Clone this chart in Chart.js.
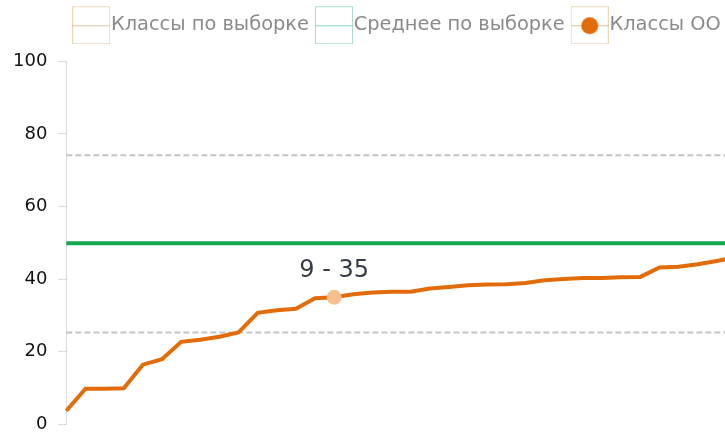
<!DOCTYPE html>
<html>
<head>
<meta charset="utf-8">
<script src="https://cdn.jsdelivr.net/npm/chart.js@4/dist/chart.umd.min.js"></script>
<style>
  html, body { margin: 0; padding: 0; background: #fff; overflow: hidden; }
  #wrap { width: 725px; height: 437px; overflow: hidden; }
</style>
</head>
<body>
<div id="wrap"><canvas id="chart" width="800" height="446"></canvas></div>
<script>
// классы ОО, отсортированные по результату
const classLabels = [
  '1', '2', '3', '4', '5', '6', '7', '8', '9', '10', '11', '12',
  '13', '14', '9', '16', '17', '18', '19', '20', '21', '22', '23', '24',
  '25', '26', '27', '28', '29', '30', '31', '32', '33', '34', '35', '36',
];
const classValues = [
  3.7, 9.8, 9.8, 9.9, 16.4, 17.9, 22.7, 23.3, 24.1, 25.3, 30.7, 31.4,
  31.8, 34.7, 35.0, 35.8, 36.3, 36.5, 36.5, 37.4, 37.8, 38.3, 38.5, 38.6,
  38.9, 39.7, 40.0, 40.3, 40.3, 40.5, 40.6, 43.2, 43.4, 44.1, 45.0, 46.0,
];
const markedIndex = 14;

const sampleMean = 49.9;
const sampleLow = 25.3;
const sampleHigh = 74.1;

const yTicks = [0, 20, 40, 60, 80, 100];

const legendNames = ['Классы по выборке', 'Среднее по выборке', 'Классы ОО'];

// ================================================================
// значки легенды
// ================================================================

function makeIcon(border, line, dot) {
  const c = document.createElement('canvas');
  c.width = 38;
  c.height = 39;
  const g = c.getContext('2d');
  g.strokeStyle = border;
  g.lineWidth = 1;
  g.strokeRect(0.5, 1.5, 37, 37);
  g.strokeStyle = line;
  g.beginPath();
  g.moveTo(0, 20.5);
  g.lineTo(38, 20.5);
  g.stroke();
  if (dot) {
    g.fillStyle = dot;
    g.beginPath();
    g.arc(19, 20.5, 8.5, 0, Math.PI * 2);
    g.fill();
  }
  return c;
}

const icons = [
  makeIcon('#e8d8b8', '#dcc6a0'),
  makeIcon('#a9ddd1', '#8ccfbf'),
  makeIcon('#e8d8b8', '#dcc09a', '#e36c0a'),
];

function flatLine(value) {
  return [
    { x: classLabels[0], y: value },
    { x: classLabels[classLabels.length - 1], y: value },
  ];
}

// ================================================================
// легенда: отступ снизу и сдвиг вправо
// ================================================================

const legendPlace = {
  id: 'legendPlace',
  beforeInit(chart) {
    const fit = chart.legend.fit;
    chart.legend.fit = function () {
      fit.call(this);
      this.height += 17;
    };
  },
  afterLayout(chart) {
    chart.legend.left += 32;
    chart.legend.right += 32;
  },
};

// ================================================================
// подпись выбранного класса
// ================================================================

const markLabel = {
  id: 'markLabel',
  afterDatasetsDraw(chart) {
    const pt = chart.getDatasetMeta(0).data[markedIndex];
    if (!pt) return;
    const { ctx } = chart;
    ctx.save();
    ctx.font = '24px "DejaVu Sans"';
    ctx.fillStyle = '#343b45';
    ctx.textAlign = 'center';
    ctx.textBaseline = 'middle';
    ctx.fillText(`${classLabels[markedIndex]} - ${Math.round(classValues[markedIndex])}`, pt.x, pt.y - 26);
    ctx.restore();
  },
};

const dashed = {
  borderColor: '#c4c4c4',
  borderWidth: 2,
  borderDash: [6, 3],
  pointRadius: 0,
  fill: false,
  order: 2,
};

new Chart(document.getElementById('chart'), {
  type: 'line',
  data: {
    labels: classLabels,
    datasets: [
      {
        label: legendNames[2],
        data: classValues,
        borderColor: '#e36c0a',
        borderWidth: 4,
        tension: 0,
        pointRadius: (c) => (c.dataIndex === markedIndex ? 7.5 : 0),
        pointBackgroundColor: '#f7bf8c',
        pointBorderWidth: 0,
        order: 0,
      },
      {
        label: legendNames[1],
        data: flatLine(sampleMean),
        borderColor: '#13a84f',
        borderWidth: 4,
        pointRadius: 0,
        order: 1,
      },
      { label: legendNames[0], data: flatLine(sampleHigh), ...dashed },
      { label: legendNames[0], data: flatLine(sampleLow), ...dashed },
    ],
  },
  options: {
    responsive: false,
    animation: false,
    events: [],
    layout: { padding: { left: 2, right: 64, top: 0, bottom: 2 } },
    plugins: {
      tooltip: { enabled: false },
      legend: {
        position: 'top',
        labels: {
          usePointStyle: true,
          pointStyleWidth: 20,
          padding: 15,
          color: '#8a8a8a',
          font: { family: 'DejaVu Sans', size: 19.4 },
          generateLabels: () => legendNames.map((name, i) => ({
            text: name,
            pointStyle: icons[i],
            fillStyle: 'transparent',
            strokeStyle: 'transparent',
            lineWidth: 0,
            fontColor: '#8a8a8a',
            hidden: false,
            datasetIndex: i,
          })),
        },
      },
    },
    scales: {
      x: { display: false },
      y: {
        min: 0,
        max: 100,
        afterBuildTicks: (scale) => { scale.ticks = yTicks.map((v) => ({ value: v })); },
        border: { color: '#dadada', width: 1 },
        grid: { drawOnChartArea: false, color: '#dadada', tickLength: 8 },
        ticks: {
          padding: 11,
          color: '#111',
          font: { family: 'DejaVu Sans', size: 18 },
        },
      },
    },
  },
  plugins: [legendPlace, markLabel],
});
</script>
</body>
</html>
